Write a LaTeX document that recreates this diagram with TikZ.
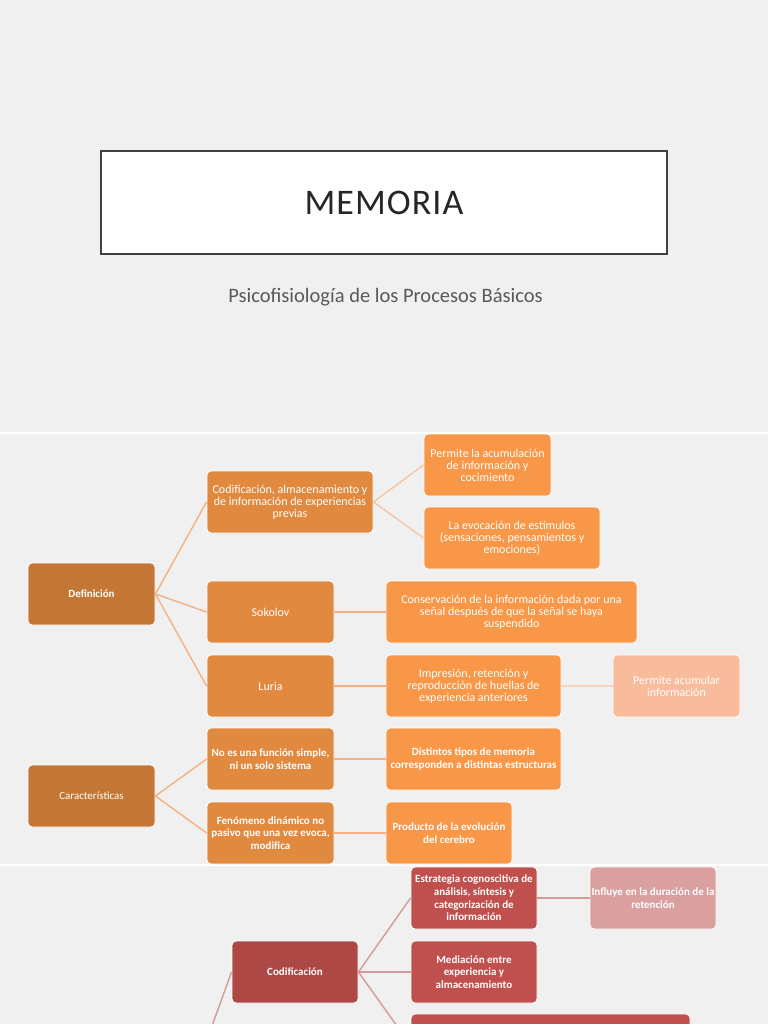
\documentclass[tikz,border=0pt]{standalone}
\usepackage{fontspec}
\setmainfont{Carlito}
\definecolor{bg}{HTML}{F0F0F0}
\definecolor{oA}{HTML}{C47735}
\definecolor{oB}{HTML}{E0893F}
\definecolor{oC}{HTML}{F79747}
\definecolor{oD}{HTML}{F8BC9C}
\definecolor{rA}{HTML}{AE4845}
\definecolor{rC}{HTML}{C0504D}
\definecolor{rD}{HTML}{D9A09F}
\definecolor{lnA}{HTML}{F4B183}
\definecolor{lnB}{HTML}{F4C6A8}
\definecolor{lnC}{HTML}{F6D4C2}
\definecolor{lnR}{HTML}{D39A98}
\definecolor{tb}{HTML}{404040}
\definecolor{tt}{HTML}{262626}
\definecolor{subc}{HTML}{595959}
\begin{document}
\begin{tikzpicture}[x=1pt,y=-1pt,
  box/.style={rounded corners=4pt, draw=white, line width=0.9pt, text=white, align=center, inner sep=1pt},
  reg/.style={font=\fontsize{12}{12}\selectfont},
  regs/.style={font=\fontsize{11}{12}\selectfont},
  bld/.style={font=\fontsize{11}{12.6}\selectfont\bfseries},
  sz/.style 2 args={minimum width=#1pt, minimum height=#2pt},
  conA/.style={draw=lnA, line width=1.4pt},
  conB/.style={draw=lnB, line width=1.4pt},
  conC/.style={draw=lnC, line width=1.4pt},
  conR/.style={draw=lnR, line width=1.4pt},
  sep/.style={draw=white, line width=1.5pt}
]
\useasboundingbox (0,0) rectangle (768,1024);
\fill[bg] (0,0) rectangle (768,1024);
\clip (0,0) rectangle (768,1024);

% title
\node[draw=tb, fill=white, line width=1.3pt, sz={566}{103}, inner sep=0pt, text=tt,
      font=\fontsize{36}{36}\selectfont\addfontfeatures{LetterSpace=3}] (title) at (384,202.5) {MEMORIA};
\node[text=subc, font=\fontsize{20.5}{24}\selectfont] (sub) at (385.5,297) {Psicofisiología de los Procesos Básicos};

% separators
\draw[sep] (0,433) -- (768,433);
\draw[sep] (0,865) -- (768,865);

% orange: Definición
\node[box, fill=oA, bld, sz={127}{62}] (def) at (91.5,594) {Definición};
\node[box, fill=oB, reg, sz={166}{62}] (cod1) at (290,502) {Codificación, almacenamiento y\\de información de experiencias\\previas};
\node[box, fill=oB, reg, sz={127}{62}] (sok) at (270.5,612) {Sokolov};
\node[box, fill=oB, reg, sz={127}{62}] (lur) at (270.5,686) {Luria};
\node[box, fill=oC, reg, sz={127}{62}] (perm) at (487.5,465) {Permite la acumulación\\de información y\\cocimiento};
\node[box, fill=oC, reg, sz={176}{62}] (evo) at (512,538) {La evocación de estímulos\\(sensaciones, pensamientos y\\emociones)};
\node[box, fill=oC, reg, sz={251}{62}] (cons) at (511.5,612) {Conservación de la información dada por una\\señal después de que la señal se haya\\suspendido};
\node[box, fill=oC, reg, sz={175}{62}] (imp) at (473.5,686) {Impresión, retención y\\reproducción de huellas de\\experiencia anteriores};
\node[box, fill=oD, reg, sz={127}{62}] (pacu) at (676.5,686) {Permite acumular\\información};

% orange: Características
\node[box, fill=oA, regs, sz={127}{62}] (car) at (91.5,796) {Características};
\node[box, fill=oB, bld, sz={127}{62}] (noes) at (270.5,759) {No es una función simple,\\ni un solo sistema};
\node[box, fill=oB, bld, sz={127}{62}] (fen) at (270.5,833) {Fenómeno dinámico no\\pasivo que una vez evoca,\\modifica};
\node[box, fill=oC, bld, sz={175}{62}] (dist) at (473.5,759) {Distintos tipos de memoria\\corresponden a distintas estructuras};
\node[box, fill=oC, bld, sz={126}{62}] (prod) at (449,833) {Producto de la evolución\\del cerebro};

% red section
\coordinate (rpar) at (180,1114);
\node[box, fill=rA, bld, sz={126}{62}] (codr) at (295,972) {Codificación};
\node[box, fill=rC, bld, sz={126}{62}] (estr) at (474,898) {Estrategia cognoscitiva de\\análisis, síntesis y\\categorización de\\información};
\node[box, fill=rD, bld, sz={126}{62}] (infl) at (653,898) {Influye en la duración de la\\retención};
\node[box, fill=rC, bld, sz={126}{62}] (med) at (474,972) {Mediación entre\\experiencia y\\almacenamiento};
\node[box, fill=rC, sz={279}{62}] (rbot) at (550.5,1045) {};

% connectors
\draw[conA] (def.east) -- (cod1.west);
\draw[conA] (def.east) -- (sok.west);
\draw[conA] (def.east) -- (lur.west);
\draw[conB] (cod1.east) -- (perm.west);
\draw[conB] (cod1.east) -- (evo.west);
\draw[conA] (sok.east) -- (cons.west);
\draw[conA] (lur.east) -- (imp.west);
\draw[conC] (imp.east) -- (pacu.west);
\draw[conA] (car.east) -- (noes.west);
\draw[conA] (car.east) -- (fen.west);
\draw[conA] (noes.east) -- (dist.west);
\draw[conA] (fen.east) -- (prod.west);
\draw[conR] (rpar) -- (codr.west);
\draw[conR] (codr.east) -- (estr.west);
\draw[conR] (codr.east) -- (med.west);
\draw[conR] (codr.east) -- (rbot.west);
\draw[conR] (estr.east) -- (infl.west);
\end{tikzpicture}
\end{document}
